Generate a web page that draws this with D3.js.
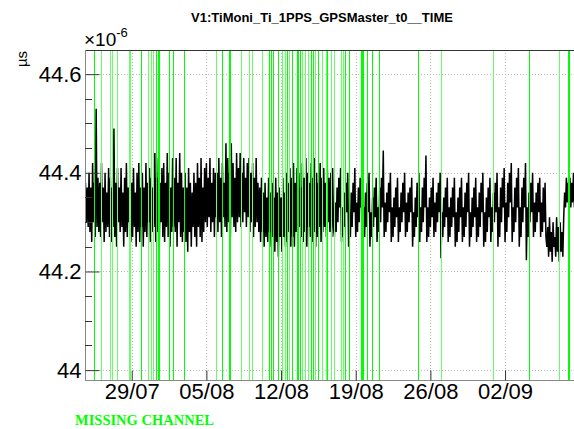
<!DOCTYPE html>
<html><head><meta charset="utf-8">
<script src="https://cdn.jsdelivr.net/npm/d3@7"></script>
<style>html,body{margin:0;padding:0;background:#fff;}svg{display:block;}</style>
</head><body>
<script>
// ---------- data ----------
const title = "V1:TiMoni_Ti_1PPS_GPSMaster_t0__TIME";
const yUnit = "\u00b5s";
const tickDates = ["2019-07-29","2019-08-05","2019-08-12","2019-08-19","2019-08-26","2019-09-02"];
const yMajorTicks = [44.0, 44.2, 44.4, 44.6];
const yDomain = [43.98, 44.649];
const referenceDate = "2019-07-29";        // day 0 for the offsets below
const xDomainDays = [-4.38, 41.37];
const seriesStartDays = -5;                 // first sample time (days from reference)
const sampleStepDays = 1/12;                // 2 h
// time offset values in microseconds
// part A: days -5 .. 18, one row per day (12 samples)
const valuesA = [
 44.37,44.30,44.39,44.28,44.36,44.29,44.41,44.27,44.38,44.30,44.37,44.29,
 44.40,44.28,44.37,44.26,44.42,44.30,44.38,44.27,44.53,44.29,44.39,44.28,
 44.38,44.27,44.42,44.30,44.37,44.26,44.40,44.28,44.36,44.29,44.41,44.27,
 44.39,44.26,44.37,44.29,44.49,44.27,44.38,44.25,44.41,44.30,44.37,44.28,
 44.41,44.29,44.36,44.25,44.39,44.28,44.42,44.27,44.37,44.30,44.40,44.26,
 44.38,44.27,44.41,44.29,44.36,44.25,44.40,44.28,44.42,44.26,44.37,44.29,
 44.40,44.25,44.37,44.28,44.42,44.27,44.38,44.30,44.41,44.26,44.39,44.28,
 44.37,44.29,44.44,44.26,44.39,44.28,44.43,44.25,44.38,44.30,44.41,44.27,
 44.42,44.26,44.38,44.29,44.44,44.27,44.40,44.25,44.37,44.28,44.43,44.29,
 44.39,44.28,44.43,44.25,44.38,44.30,44.44,44.27,44.40,44.26,44.37,44.28,
 44.40,44.26,44.37,44.24,44.41,44.28,44.38,44.25,44.36,44.29,44.40,44.27,
 44.38,44.25,44.42,44.29,44.39,44.27,44.43,44.26,44.37,44.28,44.41,44.30,
 44.42,44.29,44.39,44.31,44.43,44.28,44.38,44.30,44.41,44.27,44.40,44.31,
 44.40,44.28,44.43,44.30,44.39,44.27,44.42,44.31,44.38,44.29,44.46,44.28,
 44.43,44.30,44.40,44.27,44.46,44.31,44.42,44.29,44.39,44.28,44.44,44.30,
 44.41,44.31,44.44,44.29,44.40,44.30,44.43,44.32,44.39,44.29,44.42,44.31,
 44.43,44.28,44.40,44.30,44.42,44.27,44.39,44.29,44.43,44.30,44.38,44.28,
 44.37,44.26,44.39,44.28,44.36,44.25,44.38,44.27,44.35,44.26,44.39,44.28,
 44.36,44.25,44.38,44.27,44.35,44.24,44.39,44.26,44.36,44.23,44.37,44.27,
 44.35,44.24,44.39,44.27,44.36,44.25,44.40,44.26,44.38,44.28,44.41,44.25,
 44.39,44.27,44.42,44.25,44.38,44.28,44.41,44.26,44.40,44.29,44.37,44.27,
 44.42,44.26,44.39,44.28,44.43,44.25,44.40,44.29,44.38,44.27,44.42,44.26,
 44.39,44.28,44.43,44.25,44.40,44.27,44.38,44.29,44.42,44.26,44.39,44.28,
 44.41,44.29,44.38,44.27,44.42,44.30,44.39,44.28,44.40,44.27,44.41,44.29
];
// part B: days 19 .. 38, one sawtooth (16 h, 8 samples) per row
const valuesB = [
 44.27,44.34,44.28,44.37,44.30,44.39,44.33,44.41,
 44.26,44.33,44.27,44.36,44.29,44.38,44.32,44.40,
 44.25,44.32,44.27,44.36,44.29,44.38,44.32,44.41,
 44.27,44.34,44.28,44.37,44.30,44.39,44.33,44.40,
 44.26,44.33,44.27,44.36,44.29,44.38,44.32,44.40,
 44.25,44.32,44.27,44.35,44.29,44.37,44.31,44.39,
 44.26,44.33,44.28,44.37,44.30,44.39,44.33,44.445,
 44.27,44.34,44.28,44.36,44.30,44.38,44.32,44.40,
 44.26,44.33,44.27,44.35,44.29,44.37,44.31,44.39,
 44.26,44.33,44.28,44.36,44.30,44.38,44.32,44.40,
 44.27,44.34,44.28,44.36,44.30,44.37,44.32,44.39,
 44.25,44.32,44.27,44.35,44.29,44.38,44.31,44.40,
 44.26,44.33,44.28,44.37,44.30,44.39,44.33,44.435,
 44.26,44.33,44.27,44.35,44.29,44.37,44.31,44.39,
 44.27,44.34,44.28,44.36,44.30,44.38,44.32,44.40,
 44.227,44.32,44.27,44.35,44.29,44.37,44.31,44.39,
 44.26,44.33,44.27,44.35,44.29,44.37,44.31,44.39,
 44.25,44.32,44.26,44.35,44.28,44.37,44.31,44.39,
 44.26,44.33,44.27,44.36,44.29,44.38,44.32,44.40,
 44.25,44.32,44.27,44.35,44.29,44.37,44.31,44.39,
 44.26,44.33,44.27,44.36,44.29,44.38,44.32,44.40,
 44.25,44.32,44.26,44.35,44.28,44.37,44.31,44.39,
 44.26,44.33,44.28,44.36,44.30,44.38,44.32,44.40,
 44.25,44.33,44.27,44.37,44.30,44.39,44.33,44.41,
 44.26,44.34,44.28,44.38,44.31,44.40,44.34,44.42,
 44.26,44.33,44.28,44.37,44.30,44.39,44.33,44.41,
 44.25,44.33,44.27,44.37,44.30,44.39,44.33,44.42,
 44.223,44.33,44.27,44.36,44.30,44.38,44.32,44.40,
 44.27,44.34,44.28,44.36,44.30,44.38,44.32,44.39,
 44.27,44.34,44.28,44.37,44.30,44.38,44.27,44.25
];
// part C: days 39 .. 41, one row per day (12 samples)
const valuesC = [
 44.29,44.23,44.31,44.24,44.28,44.22,44.30,44.25,44.27,44.23,44.31,44.24,
 44.29,44.22,44.30,44.24,44.28,44.23,44.31,44.36,44.33,44.39,44.34,44.38,
 44.35,44.39,44.33,44.38,44.34,44.40,44.33,44.38,44.35,44.39,44.34,44.38
];
// missing-channel markers (days from reference date)
const missingBright = [-3.51,0.87,2.28,2.49,2.55,3.50,3.90,4.93,8.49,9.15,9.21,12.90,13.03,13.28,13.69,14.53,15.00,15.47,15.53,15.62,15.78,16.81,17.00,17.49,18.28,20.00,20.40,21.50,21.60,21.66,22.03,22.50,23.19,26.87,37.25,40.90,40.96];
const missingLight = [-2.88,-2.01,-1.88,-1.35,-0.30,-0.15,1.56,1.84,2.03,7.88,10.25,11.03,11.25,12.19,14.06,14.37,14.75,15.94,16.25,16.50,17.19,17.81,18.22,18.69,18.97,19.62,19.81,29.00,33.90,40.06];
const missingLabel = "MISSING CHANNEL";

// ---------- chart ----------
const W = 574, H = 429;
const L = 85, R = 574, T = 50, B = 380;
const DAY = 864e5;
const ref = new Date(referenceDate + "T00:00:00Z").getTime();
const dayToDate = d => new Date(ref + d * DAY);
const values = valuesA.concat(valuesB, valuesC);

const x = d3.scaleUtc().domain(xDomainDays.map(dayToDate)).range([L, 573]);
const y = d3.scaleLinear().domain(yDomain).range([B, T]);

const svg = d3.select("body").append("svg").attr("width", W).attr("height", H)
  .style("font-family", "'Liberation Sans', Arial, Helvetica, sans-serif");

svg.append("defs").append("clipPath").attr("id", "clip")
  .append("rect").attr("x", L).attr("y", T).attr("width", R - L).attr("height", B - T);

const px = v => Math.round(v) + 0.5;

// grid
const grid = svg.append("g").attr("stroke", "#b8b8b8").attr("stroke-width", 1).attr("stroke-dasharray", "1,2");
const tDates = tickDates.map(s => new Date(s + "T00:00:00Z"));
grid.selectAll("line.v").data(tDates).join("line")
  .attr("x1", d => px(x(d))).attr("x2", d => px(x(d))).attr("y1", T).attr("y2", B);
grid.selectAll("line.h").data(yMajorTicks).join("line")
  .attr("x1", L).attr("x2", R).attr("y1", d => px(y(d))).attr("y2", d => px(y(d)));

// data
const dataG = svg.append("g").attr("clip-path", "url(#clip)");
const pts = values.map((v, i) => [dayToDate(seriesStartDays + i * sampleStepDays), v]);
dataG.append("path").datum(pts).attr("d", d3.line().x(d => x(d[0])).y(d => y(d[1])))
  .attr("fill", "none").attr("stroke", "#000").attr("stroke-width", 1.5).attr("stroke-linejoin", "bevel");

// missing markers
const mk = svg.append("g").attr("clip-path", "url(#clip)");
mk.selectAll("line.l").data(missingLight).join("line")
  .attr("x1", d => px(x(dayToDate(d)))).attr("x2", d => px(x(dayToDate(d))))
  .attr("y1", T).attr("y2", B).attr("stroke", "#66ff66").attr("stroke-width", 1);
mk.selectAll("line.b").data(missingBright).join("line")
  .attr("x1", d => px(x(dayToDate(d)))).attr("x2", d => px(x(dayToDate(d))))
  .attr("y1", T).attr("y2", B).attr("stroke", "#00ff00").attr("stroke-width", 1);

// frame
svg.append("line").attr("x1", L).attr("x2", R).attr("y1", T + 0.5).attr("y2", T + 0.5).attr("stroke", "#333");
svg.append("line").attr("x1", L).attr("x2", R).attr("y1", B + 0.5).attr("y2", B + 0.5).attr("stroke", "#888");
svg.append("line").attr("x1", L + 0.5).attr("x2", L + 0.5).attr("y1", T).attr("y2", B + 1).attr("stroke", "#888");

// y axis ticks
const yAxis = d3.axisLeft(y).tickValues(yMajorTicks).tickSize(-14).tickPadding(18)
  .tickFormat(d => d3.format("")(+d.toFixed(1)));
const gy = svg.append("g").attr("transform", `translate(${L + 0.5},0)`).call(yAxis);
gy.select(".domain").remove();
gy.selectAll(".tick line").attr("stroke", "#333");
gy.selectAll(".tick text").attr("font-size", 22).attr("fill", "#000").attr("x", -4);
const minor = d3.range(0, 14).map(i => 44.0 + i * 0.05).filter(v => !yMajorTicks.some(m => Math.abs(m - v) < 1e-6) && v < yDomain[1]);
svg.append("g").selectAll("line").data(minor).join("line")
  .attr("x1", L).attr("x2", L + 7).attr("y1", d => px(y(d))).attr("y2", d => px(y(d))).attr("stroke", "#333");

// x axis ticks
const xAxis = d3.axisBottom(x).tickValues(tDates).tickSize(-10).tickPadding(6)
  .tickFormat(d3.utcFormat("%d/%m"));
const gx = svg.append("g").attr("transform", `translate(0,${B + 0.5})`).call(xAxis);
gx.select(".domain").remove();
gx.selectAll(".tick line").attr("stroke", "#333");
gx.selectAll(".tick text").attr("font-size", 22).attr("fill", "#000").attr("dy", "0.72em").attr("y", 3);

// texts
svg.append("text").attr("x", 322).attr("y", 22).attr("text-anchor", "middle")
  .attr("font-size", 13).attr("font-weight", "bold").text(title);
const ex = svg.append("text").attr("x", 84).attr("y", 46).attr("font-size", 19);
ex.append("tspan").text("\u00d710");
ex.append("tspan").attr("dy", -9).attr("font-size", 13).text("-6");
svg.append("text").attr("transform", "translate(27,59) rotate(-90)").attr("text-anchor", "middle")
  .attr("font-size", 15).text(yUnit);
svg.append("text").attr("x", 75).attr("y", 425).attr("fill", "#00ff00")
  .attr("font-family", "'Liberation Serif', 'Times New Roman', serif").attr("font-weight", "bold")
  .attr("font-size", 14.5).text(missingLabel);
</script>
</body></html>
